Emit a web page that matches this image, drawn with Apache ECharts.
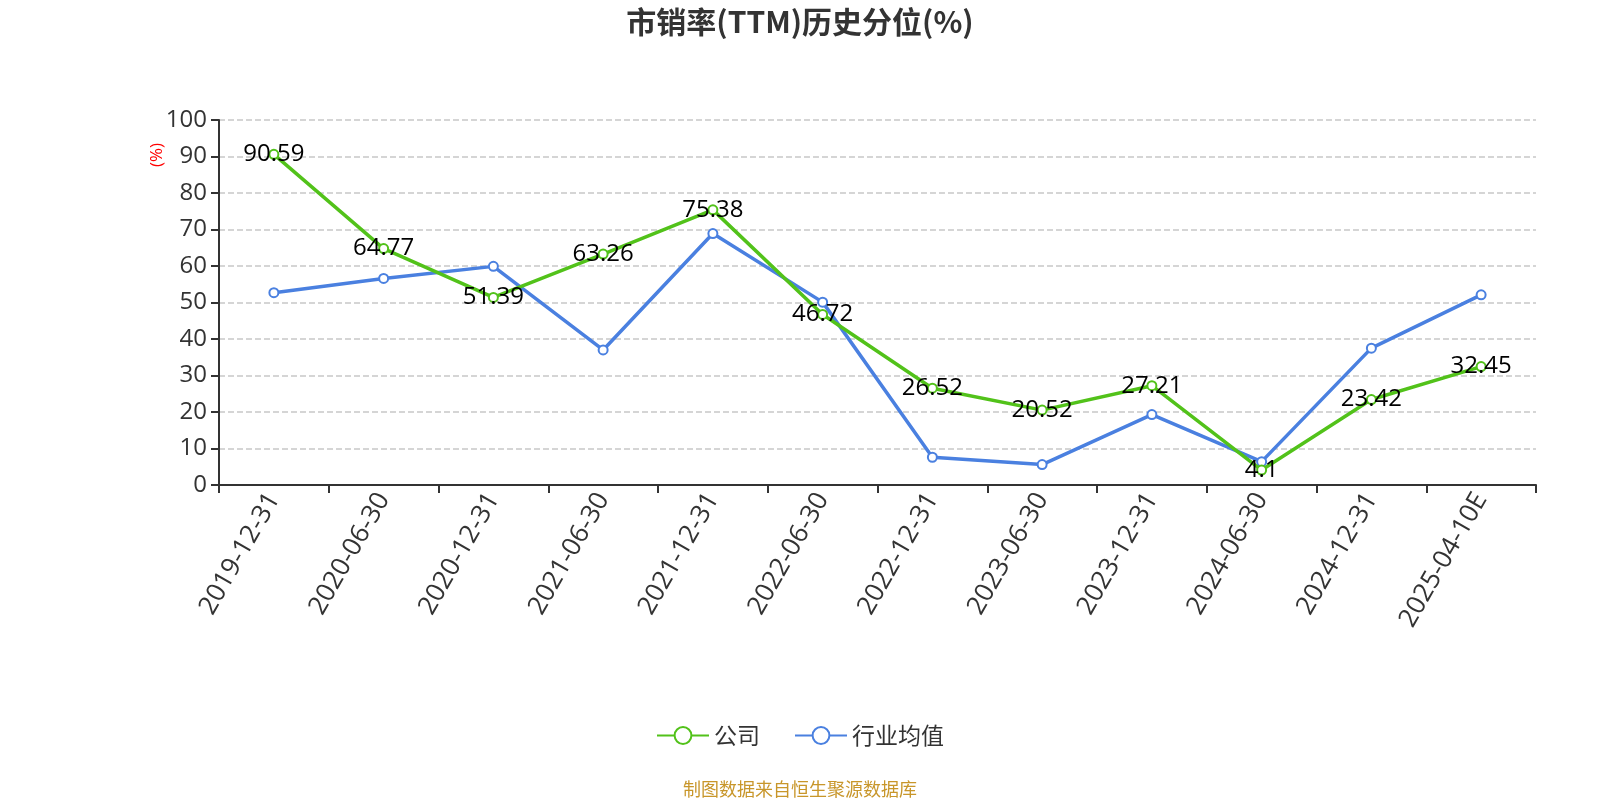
<!DOCTYPE html>
<html><head><meta charset="utf-8">
<script src="https://cdn.jsdelivr.net/npm/echarts@6/dist/echarts.min.js"></script>
<style>html,body{margin:0;padding:0;background:#fff;overflow:hidden}#c{width:1600px;height:800px}</style>
</head><body><div id="c"></div>
<script>
const categories = ['2019-12-31','2020-06-30','2020-12-31','2021-06-30','2021-12-31','2022-06-30','2022-12-31','2023-06-30','2023-12-31','2024-06-30','2024-12-31','2025-04-10E'];
const companyValues = [90.59, 64.77, 51.39, 63.26, 75.38, 46.72, 26.52, 20.52, 27.21, 4.1, 23.42, 32.45];
const industryValues = [52.7, 56.6, 59.9, 37.0, 68.9, 50.1, 7.6, 5.6, 19.3, 6.4, 37.5, 52.1];
const yTicks = [0, 10, 20, 30, 40, 50, 60, 70, 80, 90, 100];
const numFont = '"Open Sans","Noto Sans CJK SC",sans-serif';
const cjkFont = '"Noto Sans CJK SC","Open Sans",sans-serif';
const chart = echarts.init(document.getElementById('c'));
chart.setOption({
  animation: false,
  textStyle: {fontFamily: numFont},
  title: [
    {text: '市销率(TTM)历史分位(%)', left: 'center', top: 2,
      textStyle: {fontSize: 30, fontWeight: 'bold', color: '#333', fontFamily: cjkFont}},
    {text: '制图数据来自恒生聚源数据库', left: 'center', top: 775,
      textStyle: {fontSize: 18, fontWeight: 'normal', color: '#c8962a', fontFamily: cjkFont}}
  ],
  graphic: [{type: 'text', left: 149, top: 143, rotation: Math.PI/2,
    style: {text: '(%)', fill: '#ff0000', fontSize: 17, fontFamily: numFont}}],
  legend: {top: 719, left: 'center', itemWidth: 52, itemHeight: 21, itemGap: 34,
    textStyle: {fontSize: 23, color: '#333', fontFamily: cjkFont},
    data: ['公司', '行业均值']},
  grid: {left: 219, right: 64, top: 120, bottom: 315},
  xAxis: {type: 'category', data: categories, boundaryGap: true,
    axisLine: {lineStyle: {color: '#333', width: 2}},
    axisTick: {show: true, length: 8, lineStyle: {color: '#333', width: 2}},
    axisLabel: {rotate: 60, fontSize: 26, color: '#333', margin: 10, interval: 0, fontFamily: numFont}},
  yAxis: {type: 'value', min: yTicks[0], max: yTicks[yTicks.length-1], interval: 10,
    axisLine: {show: true, lineStyle: {color: '#333', width: 2}},
    axisTick: {show: true, length: 8, lineStyle: {color: '#333', width: 2}},
    axisLabel: {fontSize: 24, color: '#333', margin: 12, fontFamily: numFont},
    splitLine: {lineStyle: {type: 'dashed', color: '#c8c8c8', width: 1.5}}},
  series: [
    {name: '公司', type: 'line', data: companyValues, symbol: 'emptyCircle', symbolSize: 9,
      itemStyle: {color: '#52c21a'}, lineStyle: {width: 3.5, color: '#52c21a'},
      label: {show: true, position: 'inside', fontSize: 24, color: '#000', fontFamily: numFont}, z: 3},
    {name: '行业均值', type: 'line', data: industryValues, symbol: 'emptyCircle', symbolSize: 9,
      itemStyle: {color: '#4a80e0'}, lineStyle: {width: 3.5, color: '#4a80e0'}, z: 2}
  ]
});
</script>
</body></html>
